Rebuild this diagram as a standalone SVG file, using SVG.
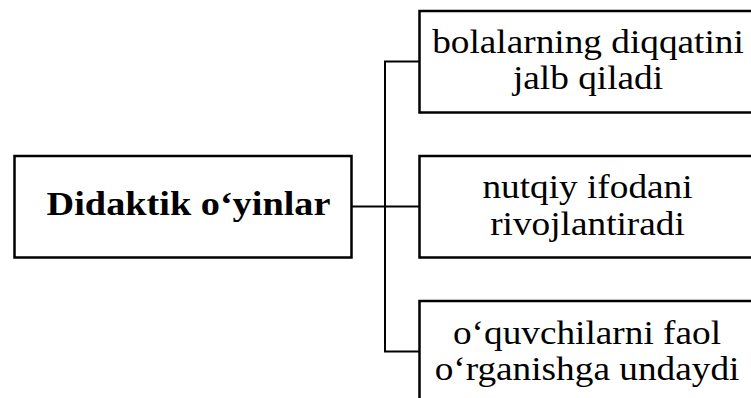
<svg xmlns="http://www.w3.org/2000/svg" width="751" height="398" viewBox="0 0 751 398">
  <style>
    .box { fill: #ffffff; stroke: #000000; stroke-width: 2.5; }
    .conn { fill: none; stroke: #000000; stroke-width: 2; }
    .t { font-family: 'Liberation Serif', Tinos, 'Nimbus Roman', 'Times New Roman', Times, serif; font-size: 33px; fill: #000000; text-anchor: middle; }
    .tb { font-weight: bold; }
  </style>
  <rect width="751" height="398" fill="#ffffff"/>
  <g id="connectors">
    <path class="conn" d="M352 206.5 H420"/>
    <path class="conn" d="M420 61.5 H385 V351.5 H420"/>
  </g>
  <g id="node-main">
    <rect class="box" x="14.5" y="156" width="337" height="101.5"/>
    <g transform="translate(188.5 215) scale(1.16 1)">
      <text class="t tb" x="0" y="0">Didaktik o‘yinlar</text>
    </g>
  </g>
  <g id="node-1">
    <rect class="box" x="419.5" y="11" width="345" height="101.5"/>
    <g transform="translate(588 0) scale(1.13 1)">
      <text class="t" x="0" y="53">bolalarning diqqatini</text>
      <text class="t" x="0" y="89">jalb qiladi</text>
    </g>
  </g>
  <g id="node-2">
    <rect class="box" x="419.5" y="156" width="345" height="101.5"/>
    <g transform="translate(587.5 0) scale(1.13 1)">
      <text class="t" x="0" y="198">nutqiy ifodani</text>
      <text class="t" x="0" y="235">rivojlantiradi</text>
    </g>
  </g>
  <g id="node-3">
    <rect class="box" x="419.5" y="301" width="345" height="101.5"/>
    <g transform="translate(587 0) scale(1.13 1)">
      <text class="t" x="0" y="344">o‘quvchilarni faol</text>
      <text class="t" x="0" y="380">o‘rganishga undaydi</text>
    </g>
  </g>
</svg>
